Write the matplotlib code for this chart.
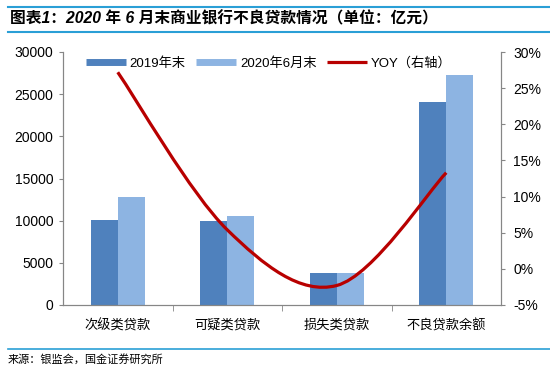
import matplotlib.pyplot as plt
from matplotlib.path import Path
from matplotlib.patches import PathPatch
from matplotlib.lines import Line2D
import numpy as np

plt.rcParams['font.family'] = ['Liberation Sans', 'Noto Sans CJK SC', 'DejaVu Sans']

# data (亿元, YOY %)
categories = ['次级类贷款', '可疑类贷款', '损失类贷款', '不良贷款余额']
end2019 = [10100, 10000, 3850, 24100]
jun2020 = [12850, 10560, 3750, 27250]
yoy = [27.2, 5.4, -2.3, 13.3]

dark = '#4F81BD'
light = '#8DB4E2'
red = '#B80000'
grey = '#868686'
rule = '#2A9FD6'

fig = plt.figure(figsize=(5.5, 3.68), dpi=100)
ax = fig.add_axes([63 / 550, 1 - 305 / 368, 438 / 550, 253 / 368])
ax2 = ax.twinx()

x = np.arange(len(categories))
w = 0.245
ax.bar(x - w / 2, end2019, width=w, color=dark, zorder=2)
ax.bar(x + w / 2, jun2020, width=w, color=light, zorder=2)
ax.set_xlim(-0.5, len(categories) - 0.5)
ax.set_ylim(0, 30000)
ax.set_yticks(range(0, 30001, 5000))
ax2.set_ylim(-5, 30)
ax2.set_yticks(range(-5, 31, 5))
ax2.set_yticklabels([f'{v}%' for v in range(-5, 31, 5)])

# smoothed YOY line (bezier through the points, like excel's smooth line)
pts = np.column_stack([x, yoy]).astype(float)
verts = [tuple(pts[0])]
codes = [Path.MOVETO]
for i in range(len(pts) - 1):
    p0 = pts[max(i - 1, 0)]
    p1 = pts[i]
    p2 = pts[i + 1]
    p3 = pts[min(i + 2, len(pts) - 1)]
    c1 = p1 + (p2 - p0) / 6
    c2 = p2 - (p3 - p1) / 6
    verts += [tuple(c1), tuple(c2), tuple(p2)]
    codes += [Path.CURVE4] * 3
ax2.add_patch(PathPatch(Path(verts, codes), fill=False, edgecolor=red, lw=2.3,
                        capstyle='butt', zorder=3))

for a in (ax, ax2):
    for s in a.spines.values():
        s.set_color(grey)
    a.spines['top'].set_visible(False)
ax.tick_params(axis='y', colors=grey, labelcolor='black', labelsize=10, length=3, pad=4)
ax2.tick_params(axis='y', colors=grey, labelcolor='black', labelsize=10, length=3, pad=6)
ax.set_xticks(x)
ax.set_xticklabels(categories, fontsize=9.5, family=['Noto Sans CJK SC'])
ax.set_xticks(np.arange(0.5, len(categories) - 1, 1), minor=True)
ax.tick_params(axis='x', which='major', length=0, pad=10)
ax.tick_params(axis='x', which='minor', length=4, color=grey)

handles = [Line2D([], [], color=dark, lw=5, solid_capstyle='butt'),
           Line2D([], [], color=light, lw=5, solid_capstyle='butt'),
           Line2D([], [], color=red, lw=2.3, solid_capstyle='butt')]
ax.legend(handles, ['2019年末', '2020年6月末', 'YOY（右轴）'], ncol=3, frameon=False,
          loc='center', bbox_to_anchor=(0.47, 0.955),
          handlelength=3.0, handletextpad=0.3, columnspacing=0.8,
          prop={'family': ['Liberation Sans', 'Noto Sans CJK SC'], 'size': 9.5})

# header / footer
fig.add_artist(Line2D([8 / 550, 1], [1 - 7 / 368] * 2, color=rule, lw=1.5))
fig.add_artist(Line2D([8 / 550, 1], [1 - 32 / 368] * 2, color=rule, lw=1.5))
fig.add_artist(Line2D([8 / 550, 1], [1 - 349 / 368] * 2, color=rule, lw=1.2))
fig.text(10 / 550, 1 - 19 / 368, '图表1：2020 年 6 月末商业银行不良贷款情况（单位：亿元）',
         fontsize=11.3, fontweight='bold', style='italic', va='center',
         family=['Liberation Sans', 'Noto Sans CJK SC'])
fig.text(8 / 550, 1 - 359 / 368, '来源：银监会，国金证券研究所', fontsize=8, va='center',
         family=['Noto Sans CJK SC'])

fig.savefig('out.png', dpi=100)
